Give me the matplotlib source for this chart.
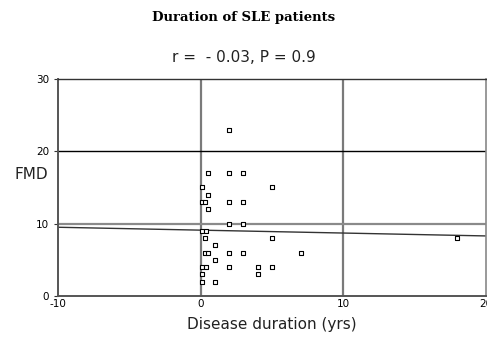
import matplotlib
matplotlib.use("Agg")
import matplotlib.pyplot as plt
import numpy as np

plt.rcParams["axes.unicode_minus"] = False

# Data
duration = [2, 0.5, 2, 3, 0.1, 5, 0.5, 0.1, 0.3, 2, 3, 0.5, 2, 3, 0.1, 0.4, 0.3, 5,
            1, 0.3, 0.5, 2, 3, 7, 1, 0.1, 0.4, 2, 4, 5, 0.1, 4, 0.1, 1, 18]
fmd = [23, 17, 17, 17, 15, 15, 14, 13, 13, 13, 13, 12, 10, 10, 9, 9, 8, 8,
       7, 6, 6, 6, 6, 6, 5, 4, 4, 4, 4, 4, 3, 3, 2, 2, 8]
reg_x = [-10, 20]
reg_y = [9.5, 8.3]
xticks = [-10, 0, 10, 20]
yticks = [0, 10, 20, 30]

fig = plt.figure(figsize=(4.87, 3.43), dpi=100)
ax = fig.add_axes([0.119, 0.137, 0.879, 0.633])
ax.set_xlim(-10, 20)
ax.set_ylim(0, 30)

# grid-like reference lines
ax.axvline(0, color="#7a7a7a", lw=1.6, zorder=1)
ax.axvline(10, color="#7a7a7a", lw=1.6, zorder=1)
ax.axhline(20, color="black", lw=1.0, zorder=1)
ax.axhline(10, color="#8a8a8a", lw=1.6, zorder=1)

ax.plot(reg_x, reg_y, color="#333333", lw=1.0, zorder=2)
ax.scatter(duration, fmd, marker="s", s=10, facecolor="white",
           edgecolor="black", linewidths=0.8, zorder=3)

for side in ["left", "bottom"]:
    ax.spines[side].set_color("#555555")
    ax.spines[side].set_linewidth(1.4)
ax.spines["top"].set_color("#333333")
ax.spines["top"].set_linewidth(1.0)
ax.spines["right"].set_color("#888888")
ax.spines["right"].set_linewidth(1.2)

ax.set_xticks(xticks)
ax.set_yticks(yticks)
ax.tick_params(axis="both", labelsize=7.5, colors="#333333", length=3, width=0.8)
ax.tick_params(axis="x", length=0, pad=2)
for lab in ax.get_xticklabels() + ax.get_yticklabels():
    lab.set_color("black")

ax.set_xlabel("Disease duration (yrs)", fontsize=11, color="#222222", labelpad=6)
ax.set_ylabel("FMD", fontsize=11, rotation=0, color="#222222",
              ha="right", va="center")
ax.yaxis.set_label_coords(-0.022, 0.56)

fig.text(0.5, 0.95, "Duration of SLE patients", ha="center", va="center",
         fontsize=9.5, fontweight="bold", family="DejaVu Serif")
fig.text(0.5, 0.833, "r =  - 0.03, P = 0.9", ha="center", va="center",
         fontsize=11, color="#222222")

fig.savefig("out.png", dpi=100)
